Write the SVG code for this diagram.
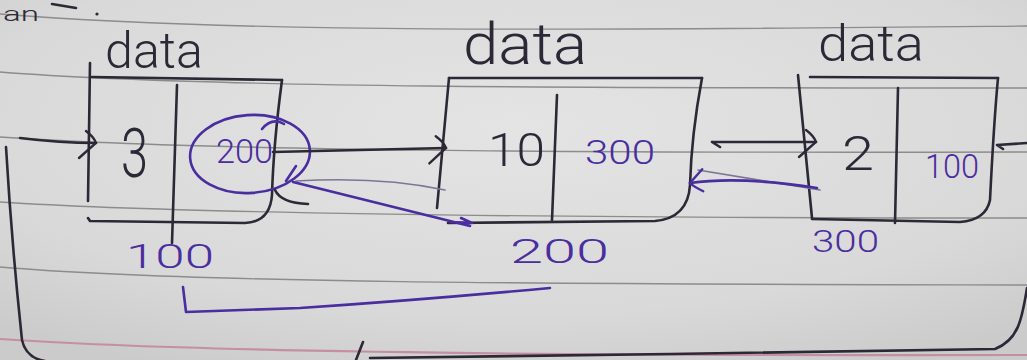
<svg xmlns="http://www.w3.org/2000/svg" width="1027" height="360" viewBox="0 0 1027 360">
  <defs>
    <radialGradient id="paperShade" cx="0.5" cy="0.35" r="0.75">
      <stop offset="0" stop-color="#e4e4e4"/>
      <stop offset="0.7" stop-color="#d9d9d9"/>
      <stop offset="1" stop-color="#cbcbcb"/>
    </radialGradient>
    <!-- hand-drawn open arrowheads -->
    <marker id="chevInk" viewBox="-20 -16 24 34" markerWidth="24" markerHeight="34" refX="0" refY="0" orient="auto" markerUnits="userSpaceOnUse">
      <path d="M-10,-12 Q-2,-6 0,0 L-17,15" fill="none" stroke="#2c2836" stroke-width="2.4" stroke-linecap="round"/>
    </marker>
    <marker id="chevPen" viewBox="-20 -16 24 34" markerWidth="24" markerHeight="34" refX="0" refY="0" orient="auto" markerUnits="userSpaceOnUse">
      <path d="M-12,-10 Q-3,-4 0,0 L-14,12" fill="none" stroke="#4a2d9e" stroke-width="2.4" stroke-linecap="round"/>
    </marker>
  </defs>
  <style>
    .ink { fill: none; stroke: #2c2836; stroke-width: 2.6; stroke-linecap: round; stroke-linejoin: round; }
    .pen { fill: none; stroke: #4a2d9e; stroke-width: 2.6; stroke-linecap: round; stroke-linejoin: round; }
    .faint { fill: none; stroke: #7d7594; stroke-width: 1.6; stroke-linecap: round; }
    .rule { fill: none; stroke: #8c8c8c; stroke-width: 1.4; }
    .margin { fill: none; stroke: #c48fa2; stroke-width: 2.2; }
    .hand { font-family: Roboto, "Open Sans", "DejaVu Sans", sans-serif; font-weight: 300; }
    .inkText { fill: #2c2836; }
    .penText { fill: #4a2d9e; }
  </style>

  <!-- ruled notebook page -->
  <g id="paper">
    <rect x="0" y="0" width="1027" height="360" fill="url(#paperShade)"/>
    <path class="rule" d="M0,14 C250,34 600,30 1027,26"/>
    <path class="rule" d="M0,72 C200,88 600,88 1027,88"/>
    <path class="rule" d="M0,137 C200,151 600,153 1027,152"/>
    <path class="rule" d="M0,202 C200,215 600,218 1027,218"/>
    <path class="rule" d="M0,267 C200,284 600,284 1027,285"/>
    <path class="margin" d="M0,339 C200,353 600,356 1027,355"/>
    <!-- end of the previous line of writing -->
    <text class="hand inkText" x="3" y="21" font-size="20" textLength="36" lengthAdjust="spacingAndGlyphs">an</text>
    <path class="ink" d="M52,4 L76,8" stroke-width="2"/>
    <circle cx="97" cy="14" r="1.6" fill="#2c2836"/>
  </g>

  <!-- first list node: value 3, next 200 -->
  <g id="node-1">
    <text class="hand inkText" x="105" y="68" font-size="50" textLength="98" lengthAdjust="spacingAndGlyphs">data</text>
    <path class="ink" d="M92,77 L282,80"/>
    <path class="ink" d="M90,63 L88,201"/>
    <path class="ink" d="M282,80 C278,110 273,160 272,195 Q270,222 245,223 L90,221 L88,218"/>
    <path class="ink" d="M177,85 L172,243"/>
    <text class="hand inkText" x="121" y="177" font-size="68" textLength="27" lengthAdjust="spacingAndGlyphs">3</text>
    <ellipse class="pen" cx="250" cy="154" rx="60" ry="39" transform="rotate(-4 250 154)"/>
    <path class="pen" d="M262,129 Q272,117 284,124" stroke-width="2"/>
    <text class="hand penText" x="216" y="163" font-size="34" textLength="57" lengthAdjust="spacingAndGlyphs">200</text>
    <text class="hand penText" x="126" y="268" font-size="33" textLength="88" lengthAdjust="spacingAndGlyphs">100</text>
  </g>

  <!-- second list node: value 10, next 300 -->
  <g id="node-2">
    <text class="hand inkText" x="463" y="64" font-size="58" textLength="124" lengthAdjust="spacingAndGlyphs">data</text>
    <path class="ink" d="M449,78 L702,78"/>
    <path class="ink" d="M449,78 L437,208"/>
    <path class="ink" d="M702,78 C696,110 691,150 690,185 Q688,218 655,221 L448,223"/>
    <path class="ink" d="M557,95 L552,220"/>
    <text class="hand inkText" x="488" y="166" font-size="46" textLength="57" lengthAdjust="spacingAndGlyphs">10</text>
    <text class="hand penText" x="585" y="164" font-size="34" textLength="70" lengthAdjust="spacingAndGlyphs">300</text>
    <text class="hand penText" x="510" y="263" font-size="34" textLength="99" lengthAdjust="spacingAndGlyphs">200</text>
  </g>

  <!-- third list node: value 2, next 100 -->
  <g id="node-3">
    <text class="hand inkText" x="818" y="61" font-size="50" textLength="106" lengthAdjust="spacingAndGlyphs">data</text>
    <path class="ink" d="M810,77 L998,78"/>
    <path class="ink" d="M798,75 L812,218"/>
    <path class="ink" d="M998,78 C995,110 992,160 990,200 Q986,220 960,222 L812,219"/>
    <path class="ink" d="M898,88 L895,223"/>
    <text class="hand inkText" x="842" y="170" font-size="48" textLength="32" lengthAdjust="spacingAndGlyphs">2</text>
    <text class="hand penText" x="925" y="178" font-size="34" textLength="54" lengthAdjust="spacingAndGlyphs">100</text>
    <text class="hand penText" x="812" y="252" font-size="32" textLength="67" lengthAdjust="spacingAndGlyphs">300</text>
  </g>

  <!-- pointers between the nodes -->
  <g id="connectors">
    <path class="ink" d="M20,138 Q60,143 96,143" marker-end="url(#chevInk)"/>
    <path class="ink" d="M273,152 L446,148" marker-end="url(#chevInk)"/>
    <path class="ink" d="M712,142 L720,147 M712,142 L816,142" marker-end="url(#chevInk)"/>
    <path class="ink" d="M1027,143 L997,145 L1003,149" stroke-width="2"/>
    <path class="faint" d="M698,170 L820,190"/>
    <path class="pen" d="M817,188 Q740,176 690,183" marker-end="url(#chevPen)"/>
    <path class="faint" d="M296,181 Q380,176 445,190"/>
    <path class="pen" d="M293,182 L470,226 M450,222 L472,223 L461,218"/>
    <path class="pen" d="M296,166 L286,181" stroke-width="2"/>
    <path class="ink" d="M275,190 Q281,203 308,204" stroke-width="2"/>
    <path class="pen" d="M183,287 L186,312 L300,308 Q420,300 550,288"/>
    <path class="ink" d="M6,147 C12,250 20,320 22,340 Q26,358 45,361"/>
    <path class="ink" d="M1027,288 C1022,320 1018,340 995,349 L670,354 L370,358"/>
    <path class="ink" d="M363,342 L356,360" stroke-width="2"/>
  </g>
</svg>
